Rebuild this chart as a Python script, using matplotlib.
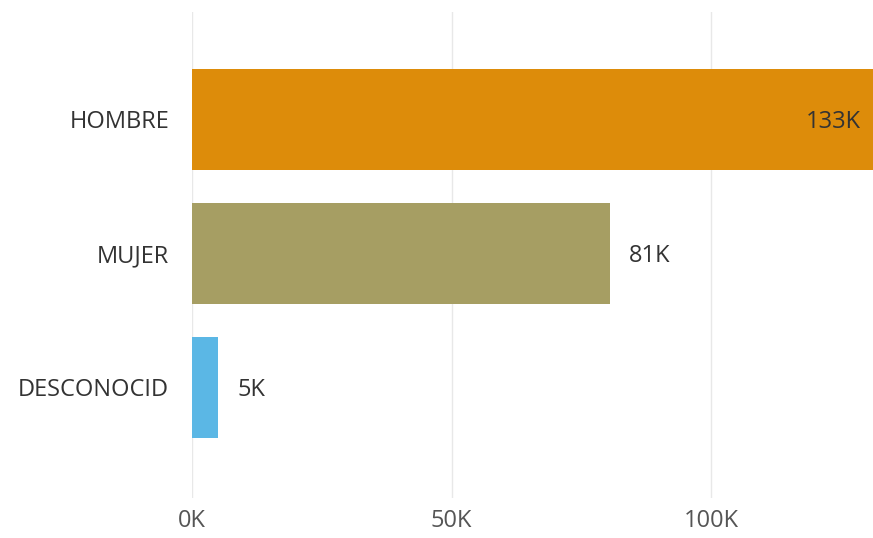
import matplotlib
matplotlib.use("Agg")
import matplotlib.pyplot as plt
from matplotlib.ticker import FuncFormatter

categories = ["HOMBRE", "MUJER", "DESCONOCID"]
values = [133000, 80500, 5000]
value_labels = ["133K", "81K", "5K"]
colors = ["#DD8C0A", "#A69E63", "#5BB7E5"]
xticks = [0, 50000, 100000]

plt.rcParams["font.family"] = ["Open Sans", "DejaVu Sans"]

fig = plt.figure(figsize=(8.73, 5.38), dpi=100)
ax = fig.add_axes([0.2199, 0.0743, 0.7801, 0.9034])

y = list(range(len(categories)))
ax.barh(y, values, height=0.755, color=colors, zorder=2)

ax.set_xlim(0, 131200)
ax.set_ylim(2.825, -0.80)
ax.set_yticks(y)
ax.set_yticklabels(categories)
ax.set_xticks(xticks)
ax.xaxis.set_major_formatter(FuncFormatter(lambda v, p: f"{int(v / 1000)}K"))

ax.grid(axis="x", color="#e8e8e8", linewidth=1, zorder=0)
for s in ax.spines.values():
    s.set_visible(False)
ax.tick_params(axis="both", length=0, labelsize=17, colors="#444444")
ax.tick_params(axis="y", pad=16.5, labelcolor="#333333")
ax.tick_params(axis="x", pad=8, labelcolor="#555555")

xmax = ax.get_xlim()[1]
for i, (v, lab) in enumerate(zip(values, value_labels)):
    if v > xmax * 0.9:
        ax.annotate(lab, xy=(xmax, i), xytext=(-9, -2), textcoords="offset points",
                    ha="right", va="center", fontsize=17, color="#333333", zorder=3)
    else:
        ax.annotate(lab, xy=(v, i), xytext=(14, -2), textcoords="offset points",
                    ha="left", va="center", fontsize=17, color="#333333", zorder=3)

fig.savefig("out.png", dpi=100)
